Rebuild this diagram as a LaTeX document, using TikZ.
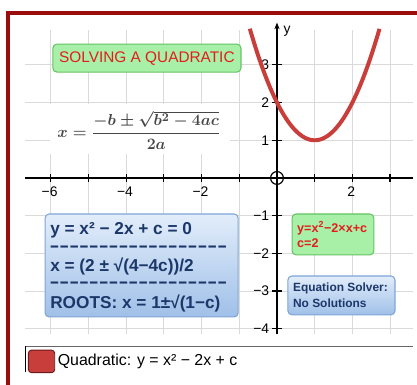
\documentclass[tikz,border=0pt]{standalone}
\usepackage{amsmath}
\usepackage{graphicx}
\usepackage[no-math]{fontspec}
\setmainfont{Liberation Sans}
\usetikzlibrary{arrows.meta}
\definecolor{framered}{RGB}{155,12,12}
\definecolor{gridgray}{RGB}{218,218,218}
\definecolor{curvered}{RGB}{200,62,58}
\definecolor{boxgreen}{RGB}{168,240,168}
\definecolor{boxgreenedge}{RGB}{100,195,100}
\definecolor{titlered}{RGB}{228,28,28}
\definecolor{bluetop}{RGB}{226,237,250}
\definecolor{bluebot}{RGB}{160,192,232}
\definecolor{blueedge}{RGB}{125,165,215}
\definecolor{bluetext}{RGB}{28,55,105}
\definecolor{formulagray}{RGB}{70,70,70}
\definecolor{swatchedge}{RGB}{105,28,28}
\newcommand\hyk{\scalebox{1.72}[1]{-}}
\newcommand\dashrow{\hyk\hyk\hyk\hyk\hyk\hyk\hyk\hyk\hyk\hyk\hyk\hyk\hyk\hyk\hyk\hyk\hyk\hyk}
\tikzset{
  gridline/.style={gridgray, line width=0.6pt},
  axisline/.style={black, line width=1.1pt},
  tickline/.style={black, line width=0.9pt},
  ticklabel/.style={font=\fontsize{10.5}{12}\selectfont, inner sep=0pt},
  curveline/.style={curvered, line width=3pt},
  greenbox/.style={draw=boxgreenedge, fill=boxgreen, rounded corners=3pt, line width=0.8pt, inner sep=0pt},
  bluebox/.style={draw=blueedge, top color=bluetop, bottom color=bluebot, rounded corners=3pt, line width=0.8pt, inner sep=0pt},
  bluetxt/.style={anchor=west, inner sep=0pt, text=bluetext, font=\fontsize{13}{15}\selectfont\bfseries},
  dashtxt/.style={anchor=base west, inner sep=0pt, text=bluetext, font=\fontsize{13}{15}\selectfont\bfseries},
  smallred/.style={anchor=west, inner sep=0pt, text=titlered, font=\fontsize{9.5}{11}\selectfont\bfseries},
  smallblue/.style={anchor=west, inner sep=0pt, text=bluetext, font=\fontsize{9}{11}\selectfont\bfseries},
}
\begin{document}
\begin{tikzpicture}
\useasboundingbox (-7.347,-5.491) rectangle (3.714,4.721);
\fill[white] (-7.347,-5.491) rectangle (3.714,4.721);
% grid
\draw[gridline] (-6.68,-4.15) grid (3.6,3.93);
% formula background
\fill[white] (-6.02,0.64) rectangle (-1.25,1.96);
\node[text=formulagray, inner sep=0pt, font=\fontsize{12.5}{15}\selectfont\boldmath] (formula) at (-3.66,1.27)
  {$x=\dfrac{-b\pm\sqrt{b^2-4ac}}{2a}$};
% axes
\coordinate (xl) at (-6.68,0);
\coordinate (xr) at (3.6,0);
\coordinate (yb) at (0,-4.15);
\coordinate (yt) at (0,4.12);
\draw[axisline] (xl) -- (xr);
\draw[axisline,-{Stealth[length=5pt,width=4pt]}] (yb) -- (yt);
\node[font=\fontsize{10.5}{12}\selectfont, inner sep=0pt] (ylab) at (0.27,3.9) {y};
\foreach \x in {-6,...,3} \draw[tickline] (\x,-0.1) -- (\x,0.1);
\foreach \y in {-4,...,3} \draw[tickline] (-0.12,\y) -- (0.12,\y);
\foreach \x/\t in {-6/−6,-4/−4,-2/−2,2/2}
  \node[ticklabel] (xt\x) at (\x-0.03,-0.37) {\t};
\foreach \y/\t in {1/1,2/2,3/3,-1/−1,-2/−2,-3/−3,-4/−4}
  \node[ticklabel, anchor=east] (yt\y) at (-0.2,\y) {\t};
% origin
\draw[black, line width=0.9pt] (0,0) circle (0.17);
% parabola
\draw[curveline, domain=-0.72:2.72, samples=80, smooth] plot (\x,{\x*\x-2*\x+2});
% title
\node[greenbox, minimum width=4.99cm, minimum height=0.74cm, text=titlered,
  font=\fontsize{11.6}{13}\selectfont] (title) at (-3.45,3.18) {SOLVING A QUADRATIC};
% blue box
\node[bluebox, minimum width=5.12cm, minimum height=2.73cm] (solve) at (-3.59,-2.321) {};
\node[bluetxt] (l1) at (-6.02,-1.379) {y = x² − 2x + c = 0};
\node[dashtxt] (d1) at (-6.04,-1.954) {\dashrow};
\node[bluetxt] (l2) at (-6.02,-2.36) {x = (2 ± √(4−4c))/2};
\node[dashtxt] (d2) at (-6.04,-2.909) {\dashrow};
\node[bluetxt] (l3) at (-6.02,-3.316) {ROOTS: x = 1±√(1−c)};
% small green box
\node[greenbox, minimum width=2.17cm, minimum height=1.085cm] (eqbox) at (1.485,-1.4975) {};
\node[smallred] (e1) at (0.53,-1.33) {y=x\textsuperscript{2}−2×x+c};
\node[smallred] (e2) at (0.53,-1.72) {c=2};
% small blue box
\node[bluebox, minimum width=2.84cm, minimum height=1.03cm] (solver) at (1.71,-3.115) {};
\node[smallblue] (s1) at (0.42,-2.92) {Equation Solver:};
\node[smallblue] (s2) at (0.42,-3.316) {No Solutions};
% legend
\coordinate (sepl) at (-6.68,-4.456);
\coordinate (sepr) at (3.6,-4.456);
\coordinate (bart) at (-6.66,-4.456);
\coordinate (barb) at (-6.66,-5.146);
\draw[gray!80!black, line width=0.7pt] (sepl) -- (sepr);
\draw[black, line width=0.7pt] (bart) -- (barb);
\node[draw=swatchedge, fill=curvered, rounded corners=2.5pt, line width=0.7pt, minimum width=0.7cm, minimum height=0.6cm, inner sep=0pt] (swatch) at (-6.245,-4.865) {};
\node[anchor=west, inner sep=0pt, font=\fontsize{12}{14}\selectfont] (legtext) at (-5.82,-4.87) {Quadratic: y = x² − 2x + c};
% frame
\draw[framered, line width=3.2pt] (-7.135,-5.6) -- (-7.135,4.377) -- (3.8,4.377);
\end{tikzpicture}
\end{document}
